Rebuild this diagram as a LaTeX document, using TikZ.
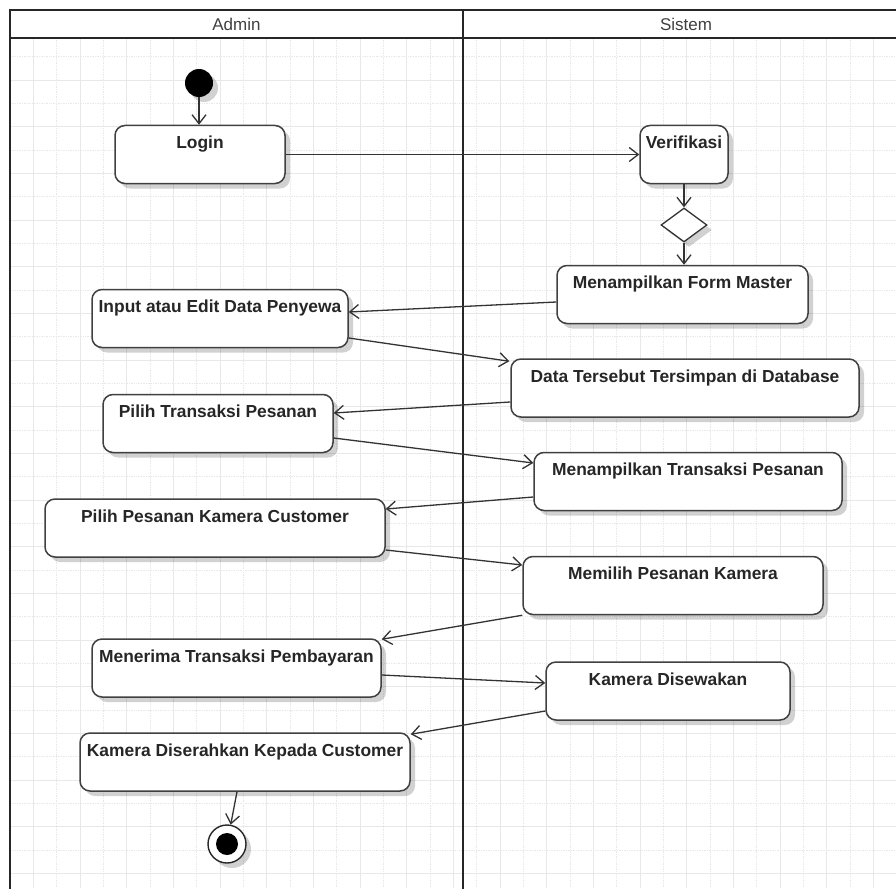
\documentclass[tikz,border=0pt]{standalone}
\usepackage{fontspec}
\setmainfont{Liberation Sans}
\usetikzlibrary{arrows.meta,shapes.geometric,shadows,calc}
\begin{document}
\begin{tikzpicture}[x=1pt,y=-1pt,
  lane/.style={line width=2pt, draw=black!85},
  gridA/.style={draw=black!9, line width=0.7pt},
  gridB/.style={draw=black!9, line width=0.7pt, densely dotted},
  shad/.style={drop shadow={shadow xshift=5pt, shadow yshift=-5pt, fill=black, opacity=0.18}},
  act/.style={draw=black!75, line width=1.5pt, fill=white, rounded corners=10pt,
    minimum height=58pt, inner xsep=4pt, inner ysep=5pt, text height=18pt, text depth=30pt,
    font=\fontsize{17.4}{20}\selectfont\bfseries, text=black!85, shad},
  flow/.style={draw=black!80, line width=1.3pt, -{Straight Barb[length=9pt,width=14pt,line width=1.3pt]}},
  hdr/.style={font=\fontsize{17}{20}\selectfont, text=black!75}
]
\useasboundingbox (0,0) rectangle (896,888);
\begin{scope}
  \clip (0,0) rectangle (896,888);
  \foreach \i in {1,3,...,37} \draw[gridA] ({10+\i*70/3},38) -- ({10+\i*70/3},888);
  \foreach \i in {2,4,...,38} \draw[gridB] ({10+\i*70/3},38) -- ({10+\i*70/3},888);
  \foreach \j in {3,5,...,37} \draw[gridA] (10,{10+\j*70/3}) -- (896,{10+\j*70/3});
  \foreach \j in {2,4,...,38} \draw[gridB] (10,{10+\j*70/3}) -- (896,{10+\j*70/3});
  \fill[white] (10,10) rectangle (910,38);
  \draw[lane] (10,10) rectangle (910,900);
  \draw[lane] (10,38) -- (910,38);
  \draw[lane] (463,10) -- (463,900);
\end{scope}
\node[hdr] (hadmin) at (236.5,24) {Admin};
\node[hdr] (hsistem) at (686,24) {Sistem};

% start / end
\node[circle, fill=black, minimum size=28pt, inner sep=0pt, shad] (start) at (199,83) {};
\node[circle, draw=black!85, line width=1.4pt, fill=white, minimum size=38pt, inner sep=0pt, shad,
  path picture={\fill[black] (path picture bounding box.center) circle[radius=11pt];}] (end) at (227,844) {};

% Admin lane
\node[act, minimum width=170pt] (login) at (200,154.5) {Login};
\node[act, minimum width=256pt] (inp) at (220,318.5) {Input atau Edit Data Penyewa};
\node[act, minimum width=230pt] (pt) at (218,423.5) {Pilih Transaksi Pesanan};
\node[act, minimum width=340pt] (pp) at (215,528) {Pilih Pesanan Kamera Customer};
\node[act, minimum width=289pt] (mnr) at (236.5,668) {Menerima Transaksi Pembayaran};
\node[act, minimum width=330pt] (kdh) at (245,762) {Kamera Diserahkan Kepada Customer};

% Sistem lane
\node[act, minimum width=88pt] (verif) at (684,154.5) {Verifikasi};
\node[diamond, draw=black!80, line width=1.3pt, fill=white, minimum width=46pt, minimum height=34pt, inner sep=0pt, shad] (dec) at (684,225) {};
\node[act, minimum width=251pt] (fm) at (682.5,294.5) {Menampilkan Form Master};
\node[act, minimum width=348pt] (data) at (685,388) {Data Tersebut Tersimpan di Database};
\node[act, minimum width=308pt] (mt) at (688,481.5) {Menampilkan Transaksi Pesanan};
\node[act, minimum width=300pt] (mem) at (673,585.5) {Memilih Pesanan Kamera};
\node[act, minimum width=244pt] (kds) at (668,691) {Kamera Disewakan};

% flows
\draw[flow] (start.south) -- (start.south |- login.north);
\draw[flow] (login) -- (verif);
\draw[flow] (verif.south) -- (dec.north);
\draw[flow] (dec.south) -- (dec.south |- fm.north);
\draw[flow] ($(fm.west)+(0,7.5)$) -- ($(inp.east)+(0,-6.5)$);
\draw[flow] ($(inp.east)+(0,19.5)$) -- ($(data.north west)+(-1,3)$);
\draw[flow] ($(data.west)+(0,14)$) -- ($(pt.east)+(0,-10.5)$);
\draw[flow] ($(pt.east)+(0,14.5)$) -- ($(mt.west)+(0,-18.5)$);
\draw[flow] ($(mt.west)+(0,15.5)$) -- ($(pp.east)+(0,-19)$);
\draw[flow] ($(pp.east)+(0,22)$) -- ($(mem.west)+(0,-20.5)$);
\draw[flow] (mem.south west) -- ($(mnr.north east)+(0,1)$);
\draw[flow] ($(mnr.east)+(0,7)$) -- ($(kds.west)+(0,-8)$);
\draw[flow] ($(kds.west)+(0,20)$) -- ($(kdh.north east)+(0,2)$);
\draw[flow] ($(kdh.south)+(-8,0)$) -- (end);
\end{tikzpicture}
\end{document}
